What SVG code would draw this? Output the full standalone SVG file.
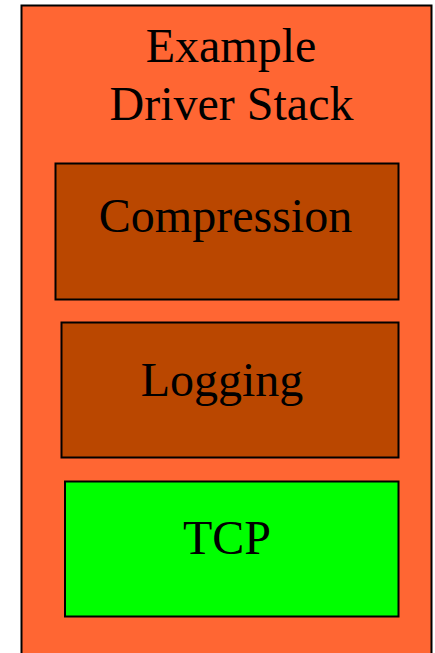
<svg xmlns="http://www.w3.org/2000/svg" width="435" height="653" viewBox="0 0 435 653">
<style>
.box{stroke:#000;stroke-width:2}
.lbl{font-family:"Liberation Serif","Times New Roman",serif;font-size:48px;fill:#000;text-anchor:middle}
</style>
<rect width="435" height="653" fill="#fff"/>
<g id="stack">
<rect class="box" x="21.5" y="5.5" width="410" height="660" fill="#FF6633"/>
<text class="lbl" x="231" y="62">Example</text>
<text class="lbl" x="231.5" y="120">Driver Stack</text>
</g>
<g id="compression">
<rect class="box" x="55.5" y="163.5" width="343" height="136" fill="#BA4700"/>
<text class="lbl" x="225.5" y="232">Compression</text>
</g>
<g id="logging">
<rect class="box" x="61.5" y="322.5" width="337" height="135" fill="#BA4700"/>
<text class="lbl" x="222" y="396">Logging</text>
</g>
<g id="tcp">
<rect class="box" x="65" y="481.5" width="333.5" height="135" fill="#00FF00"/>
<text class="lbl" x="227" y="554">TCP</text>
</g>
<g id="connectors"/>
</svg>
